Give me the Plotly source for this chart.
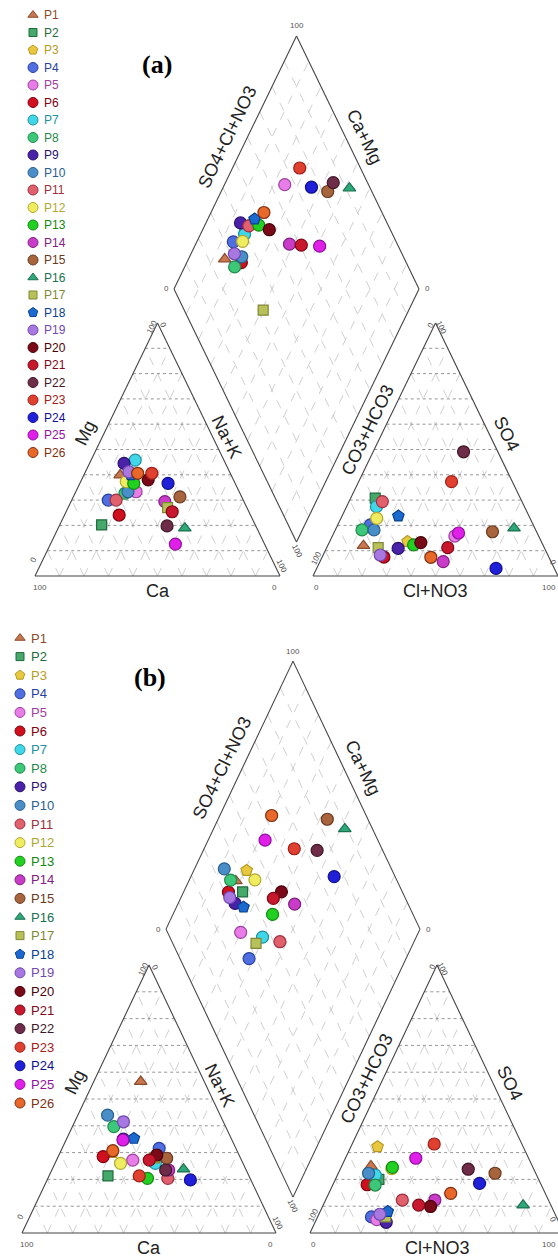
import plotly.graph_objects as go

# ---------------- data ----------------
samples = [f"P{i}" for i in range(1, 27)]
symbols = ["triangle-up", "square", "pentagon"] + ["circle"] * 12 + \
          ["triangle-up", "square", "pentagon"] + ["circle"] * 8
fill_colors = ["#c87850", "#46a86a", "#e8c840", "#4f6fe0", "#e87de8", "#d0101e",
               "#40d8e8", "#3cc878", "#4a22a8", "#4a8ec8", "#e0606e", "#f0ec60",
               "#22d022", "#c83cc8", "#a8643c", "#2ea878", "#b8c058", "#1a6ad0",
               "#a878e0", "#7a0a18", "#c8182e", "#6e2c48", "#e04030", "#2020d8",
               "#e020e8", "#e8682a"]
edge_colors = ["#8b4a2a", "#1f6b3c", "#b89a20", "#2a3fa0", "#a040a0", "#800010",
               "#2090a0", "#1f8a4a", "#2a1070", "#2a6090", "#a03040", "#b0a830",
               "#108a10", "#802080", "#6a3a20", "#1a7050", "#808838", "#0a4090",
               "#7048b0", "#4a0008", "#800818", "#401828", "#a02018", "#101090",
               "#9010a0", "#803010"]

# (a) cations (%)
a_ca = [45.3, 62.7, 43.0, 55.1, 42.1, 53.6, 36.2, 46.9, 41.4, 45.4, 51.9, 44.1, 41.4,
        32.3, 25.2, 29.4, 32.4, 40.9, 41.1, 34.8, 31.3, 36.2, 32.0, 27.4, 36.4, 37.8]
a_mg = [39.9, 20.2, 38.0, 30.0, 33.3, 24.1, 45.8, 32.7, 44.5, 33.3, 30.0, 37.3, 36.6,
        29.4, 31.3, 18.9, 27.0, 40.0, 41.2, 38.0, 25.4, 19.8, 40.6, 36.6, 12.6, 40.6]
a_nak = [14.8, 17.1, 19.0, 14.9, 24.6, 22.3, 18.0, 20.4, 14.1, 21.3, 18.1, 18.6, 22.0,
         38.3, 43.5, 51.7, 40.6, 19.1, 17.7, 27.2, 43.3, 44.0, 27.4, 36.0, 51.0, 21.6]
# (a) anions (%)
a_hco3 = [73.4, 59.2, 54.6, 66.5, 34.2, 67.3, 60.4, 70.9, 59.8, 66.0, 57.0, 62.6, 52.8,
          44.0, 18.0, 8.5, 67.8, 53.3, 68.4, 49.4, 39.4, 14.0, 24.8, 23.8, 32.1, 48.2]
a_so4 = [12.0, 30.8, 13.6, 20.2, 15.8, 7.5, 27.4, 18.2, 10.9, 18.2, 29.4, 22.8, 12.3,
         5.7, 17.5, 18.9, 11.2, 23.7, 8.3, 13.2, 11.2, 49.1, 37.3, 3.0, 17.0, 7.4]
a_cl = [14.6, 10.0, 31.8, 13.3, 50.0, 25.2, 12.2, 10.9, 29.3, 15.8, 13.6, 14.6, 34.9,
        50.3, 64.5, 72.6, 21.0, 23.0, 23.3, 37.4, 49.4, 36.9, 37.9, 73.2, 50.9, 44.4]

# (b) cations (%)
b_ca = [25.0, 55.5, 49.2, 30.2, 42.8, 53.8, 34.5, 44.0, 42.6, 44.3, 32.4, 48.2, 40.4,
        30.5, 29.1, 24.5, 33.9, 38.3, 39.3, 32.4, 36.3, 31.7, 43.2, 23.8, 42.9, 48.9]
b_mg = [56.5, 21.3, 30.0, 31.6, 27.2, 28.5, 26.0, 39.7, 35.0, 44.0, 20.4, 26.0, 20.4,
        23.5, 27.9, 23.8, 28.0, 35.3, 41.5, 29.1, 27.2, 23.5, 21.3, 19.8, 34.7, 30.7]
b_nak = [18.5, 23.2, 20.8, 38.2, 30.0, 17.7, 39.5, 16.3, 22.4, 11.7, 47.2, 25.8, 39.2,
         46.0, 43.0, 51.7, 38.1, 26.4, 19.2, 38.5, 36.5, 44.8, 35.5, 56.4, 22.4, 20.4]
# (b) anions (%)
b_hco3 = [63.5, 62.9, 57.3, 72.8, 71.2, 68.5, 63.5, 65.4, 68.0, 65.8, 57.5, 55.8, 55.3,
          44.7, 16.0, 10.9, 67.2, 65.4, 69.0, 47.6, 52.0, 25.8, 34.5, 24.0, 44.4, 37.2]
b_so4 = [25.0, 20.0, 32.2, 6.0, 5.0, 18.0, 21.6, 17.9, 4.0, 22.3, 12.3, 24.0, 24.5,
         12.3, 22.3, 10.4, 6.0, 8.0, 7.0, 9.9, 10.4, 23.8, 33.2, 18.5, 27.9, 14.8]
b_cl = [11.5, 17.1, 10.5, 21.2, 23.8, 13.5, 14.9, 16.7, 28.0, 11.9, 30.2, 20.2, 20.2,
        43.0, 61.7, 78.7, 26.8, 26.6, 24.0, 42.5, 37.6, 50.4, 32.3, 57.5, 27.7, 48.0]

grid_ticks = [10, 20, 30, 40, 50, 60, 70, 80, 90]

# ---------------- layout parameters (pixels) ----------------
PANELS = {
    "a": dict(cx0=35, W=245, base=576, H=253, ax0=313, tag="(a)", tag_xy=(157, 64),
              leg_x=33, leg_y0=15, leg_dy=17.5, leg_font=12),
    "b": dict(cx0=22, W=254, base=1233, H=268, ax0=310, tag="(b)", tag_xy=(150, 677),
              leg_x=20, leg_y0=638, leg_dy=18.6, leg_font=13),
}

fig = go.Figure()
annotations = []


def geom(p):
    W, H = p["W"], p["H"]
    gap = p["ax0"] - (p["cx0"] + W)
    bx = p["cx0"] + W + gap / 2
    by = p["base"] - (gap / 2) * (2 * H / W)
    return dict(bottom=(bx, by), left=(bx - W / 2, by - H), top=(bx, by - 2 * H),
                right=(bx + W / 2, by - H))


def tri_xy(p, x0, right_frac_pct, top_pct):
    # right_frac_pct: component at bottom-right corner, top_pct: apex component
    x = x0 + p["W"] * (right_frac_pct + top_pct / 2) / 100
    y = p["base"] - p["H"] * top_pct / 100
    return x, y


def dia_xy(p, g, nak, scl):
    lx, ly = g["left"]
    x = lx + nak / 100 * (p["W"] / 2) + scl / 100 * (p["W"] / 2)
    y = ly + nak / 100 * p["H"] - scl / 100 * p["H"]
    return x, y


def add_lines(segs, color, width, dash):
    xs, ys = [], []
    for (x1, y1), (x2, y2) in segs:
        xs += [x1, x2, None]
        ys += [y1, y2, None]
    fig.add_trace(go.Scatter(x=xs, y=ys, mode="lines", hoverinfo="skip", showlegend=False,
                             line=dict(color=color, width=width, dash=dash)))


def txt(x, y, s, size, color="#222222", angle=0, family="Liberation Sans", bold=False):
    annotations.append(dict(x=x, y=y, xref="x", yref="y", text=("<b>%s</b>" % s) if bold else s,
                            showarrow=False, textangle=angle,
                            font=dict(size=size, color=color, family=family),
                            xanchor="center", yanchor="middle"))


TS = 18  # axis title size
for key, p in PANELS.items():
    g = geom(p)
    W, H = p["W"], p["H"]
    # ----- grids -----
    light, hor = [], []
    for x0 in (p["cx0"], p["ax0"]):
        for k in grid_ticks:
            hor.append((tri_xy(p, x0, 0, k), tri_xy(p, x0, 100 - k, k)))
            light.append((tri_xy(p, x0, k, 0), tri_xy(p, x0, k, 100 - k)))
            light.append((tri_xy(p, x0, 100 - k, 0), tri_xy(p, x0, 0, 100 - k)))
    for k in grid_ticks:
        light.append((dia_xy(p, g, k, 0), dia_xy(p, g, k, 100)))
        light.append((dia_xy(p, g, 0, k), dia_xy(p, g, 100, k)))
    add_lines(light, "#c4c4c4", 0.8, "dash")
    add_lines(hor, "#8a8a8a", 0.9, "dot")
    # ----- outlines -----
    out = []
    for x0 in (p["cx0"], p["ax0"]):
        a1, a2, a3 = tri_xy(p, x0, 0, 0), tri_xy(p, x0, 100, 0), tri_xy(p, x0, 0, 100)
        out += [(a1, a2), (a2, a3), (a3, a1)]
    out += [(g["left"], g["top"]), (g["top"], g["right"]),
            (g["right"], g["bottom"]), (g["bottom"], g["left"])]
    add_lines(out, "#444444", 1.1, "solid")

    # ----- axis titles -----
    def along(a, b, f):
        return a[0] + (b[0] - a[0]) * f, a[1] + (b[1] - a[1]) * f

    cBL, cBR, cT = tri_xy(p, p["cx0"], 0, 0), tri_xy(p, p["cx0"], 100, 0), tri_xy(p, p["cx0"], 0, 100)
    aBL, aBR, aT = tri_xy(p, p["ax0"], 0, 0), tri_xy(p, p["ax0"], 100, 0), tri_xy(p, p["ax0"], 0, 100)
    x, y = along(g["left"], g["top"], 0.60); txt(x - 20, y, "SO4+Cl+NO3", TS, angle=-64)
    x, y = along(g["right"], g["top"], 0.60); txt(x + 19, y, "Ca+Mg", TS, angle=64)
    x, y = along(cBL, cT, 0.565); txt(x - 19, y, "Mg", TS, angle=-64)
    x, y = along(cBR, cT, 0.55); txt(x + 14, y, "Na+K", TS, angle=64)
    x, y = along(aBL, aT, 0.577); txt(x - 16, y, "CO3+HCO3", TS, angle=-64)
    x, y = along(aBR, aT, 0.56); txt(x + 17, y, "SO4", TS, angle=64)
    txt((cBL[0] + cBR[0]) / 2, p["base"] + 15, "Ca", TS)
    txt((aBL[0] + aBR[0]) / 2, p["base"] + 15, "Cl+NO3", TS)
    # ----- tick labels -----
    tc, ts = "#555555", 8
    txt(g["top"][0], g["top"][1] - 10, "100", ts, tc)
    txt(g["left"][0] - 8, g["left"][1], "0", ts, tc)
    txt(g["right"][0] + 8, g["right"][1], "0", ts, tc)
    txt(g["bottom"][0], g["bottom"][1] + 9, "100", ts, tc, angle=64)
    txt(cT[0] - 6, cT[1] + 4, "100", ts, tc, angle=-64)
    txt(cT[0] + 6, cT[1] + 2, "0", ts, tc, angle=64)
    txt(cBL[0] - 2, cBL[1] - 16, "0", ts, tc, angle=-64)
    txt(cBL[0] + 5, cBL[1] + 11, "100", ts, tc)
    txt(cBR[0] - 6, cBR[1] + 11, "0", ts, tc)
    txt(cBR[0] + 2, cBR[1] - 10, "100", ts, tc, angle=64)
    txt(aT[0] - 5, aT[1] + 2, "0", ts, tc, angle=-64)
    txt(aT[0] + 6, aT[1] + 4, "100", ts, tc, angle=64)
    txt(aBL[0] + 3, aBL[1] - 18, "100", ts, tc, angle=-64)
    txt(aBL[0] + 3, aBL[1] + 11, "0", ts, tc)
    txt(min(aBR[0] - 3, 549), aBR[1] + 11, "100", ts, tc)
    txt(min(aBR[0] + 1, 553), aBR[1] - 14, "0", ts, tc, angle=64)
    # panel tag
    txt(p["tag_xy"][0], p["tag_xy"][1], p["tag"], 26, "#000000",
        family="Liberation Serif", bold=True)

# ----- sample markers -----
data = {"a": (a_ca, a_mg, a_nak, a_hco3, a_so4, a_cl),
        "b": (b_ca, b_mg, b_nak, b_hco3, b_so4, b_cl)}
for i, name in enumerate(samples):
    xs, ys = [], []
    for key, p in PANELS.items():
        g = geom(p)
        ca, mg, nak, hco3, so4, cl = (arr[i] for arr in data[key])
        tc_ = ca + mg + nak
        ta_ = hco3 + so4 + cl
        mg_, nak_ = mg / tc_ * 100, nak / tc_ * 100
        so4_, cl_ = so4 / ta_ * 100, cl / ta_ * 100
        for pt in (tri_xy(p, p["cx0"], nak_, mg_), tri_xy(p, p["ax0"], cl_, so4_),
                   dia_xy(p, g, nak_, so4_ + cl_)):
            xs.append(pt[0]); ys.append(pt[1])
    size = 11 if symbols[i] == "triangle-up" else (10 if symbols[i] == "square" else 12)
    fig.add_trace(go.Scatter(x=xs, y=ys, mode="markers", name=name, showlegend=False,
                             marker=dict(symbol=symbols[i], size=size, color=fill_colors[i],
                                         line=dict(color=edge_colors[i], width=1.2))))

# ----- legends -----
for key, p in PANELS.items():
    ly = [p["leg_y0"] + i * p["leg_dy"] for i in range(len(samples))]
    for i, name in enumerate(samples):
        size = 9 if symbols[i] == "triangle-up" else (8 if symbols[i] == "square" else 10)
        fig.add_trace(go.Scatter(x=[p["leg_x"]], y=[ly[i]], mode="markers", showlegend=False,
                                 hoverinfo="skip",
                                 marker=dict(symbol=symbols[i], size=size, color=fill_colors[i],
                                             line=dict(color=edge_colors[i], width=1))))
        annotations.append(dict(x=p["leg_x"] + 9, y=ly[i], xref="x", yref="y", text=name,
                                showarrow=False, xanchor="left", yanchor="middle",
                                font=dict(size=p["leg_font"], color=edge_colors[i],
                                          family="Liberation Sans")))

fig.update_layout(
    width=558, height=1259, autosize=False,
    margin=dict(l=0, r=0, t=0, b=0),
    paper_bgcolor="white", plot_bgcolor="white",
    xaxis=dict(range=[0, 558], visible=False, fixedrange=True),
    yaxis=dict(range=[1259, 0], visible=False, fixedrange=True),
    annotations=annotations,
    showlegend=False,
)
fig.write_html("out.html", config={"displayModeBar": False})
